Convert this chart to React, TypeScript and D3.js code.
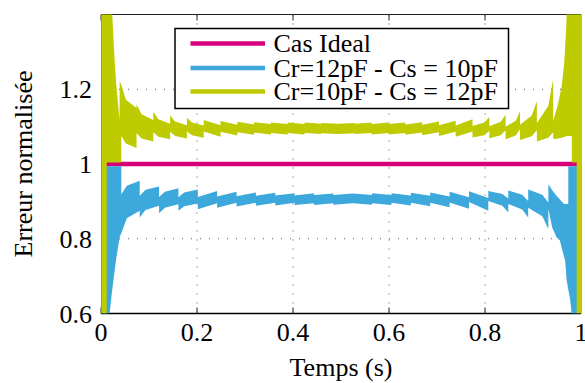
import React from "react";
import * as d3 from "d3";

// ---- data ----
const xTicks = [0, 0.2, 0.4, 0.6, 0.8, 1];
const xTickLabels = ["0", "0.2", "0.4", "0.6", "0.8", "1"];
const yTicks = [0.6, 0.8, 1, 1.2];
const yTickLabels = ["0.6", "0.8", "1", "1.2"];
const yGrid = [0.8, 1, 1.2];
const xGrid = [0.2, 0.4, 0.6, 0.8];

const seriesNames = ["Cas Ideal", "Cr=12pF - Cs = 10pF", "Cr=10pF - Cs = 12pF"];
const seriesColors = ["#d6007b", "#3ca8dc", "#becb00"];

// ideal case
const idealX = [0, 1];
const idealY = [1, 1];

// yellow band (Cr=10pF - Cs=12pF): [x, upper, lower]
const yellowStart = [
  [0.002, 1.45, 0.6],
  [0.012, 1.45, 0.6],
  [0.012, 1.45, 1.004],
  [0.0215, 1.45, 1.004],
  [0.025, 1.36, 1.004],
  [0.0285, 1.275, 1.004],
  [0.032, 1.21, 1.004],
  [0.035, 1.168, 1.004],
  [0.0385, 1.118, 1.004],
  [0.039, 1.221, 1.004],
  [0.0423, 1.212, 1.004],
];
// teeth: [x0, x1, upper0, upper1, lower0, lower1, upperMid?, lowerMid?]
const yellowTeeth = [
  [0.0423, 0.074, 1.212, 1.15, 1.075, 1.043, 1.172, 1.055],
  [0.074, 0.109, 1.16, 1.118, 1.082, 1.06, 1.133, 1.068],
  [0.109, 0.144, 1.14, 1.108, 1.085, 1.066, 1.12, 1.073],
  [0.144, 0.179, 1.13, 1.104, 1.086, 1.068, 1.114, 1.075],
  [0.179, 0.214, 1.124, 1.103, 1.087, 1.07, 1.111, 1.077],
  [0.214, 0.249, 1.118, 1.104, 1.087, 1.073],
  [0.249, 0.284, 1.115, 1.105, 1.086, 1.076],
  [0.284, 0.319, 1.113, 1.106, 1.085, 1.078],
  [0.319, 0.354, 1.112, 1.107, 1.084, 1.079],
  [0.354, 0.389, 1.111, 1.107, 1.083, 1.079],
  [0.389, 0.424, 1.111, 1.107, 1.083, 1.079],
  [0.424, 0.459, 1.111, 1.108, 1.083, 1.08],
  [0.459, 0.494, 1.11, 1.108, 1.082, 1.08],
  [0.494, 0.529, 1.108, 1.11, 1.08, 1.082],
  [0.529, 0.564, 1.108, 1.111, 1.08, 1.083],
  [0.564, 0.599, 1.107, 1.111, 1.079, 1.083],
  [0.599, 0.634, 1.107, 1.111, 1.079, 1.083],
  [0.634, 0.669, 1.106, 1.112, 1.078, 1.084],
  [0.669, 0.704, 1.105, 1.114, 1.077, 1.085],
  [0.704, 0.739, 1.104, 1.116, 1.075, 1.086],
  [0.739, 0.774, 1.103, 1.12, 1.073, 1.087],
  [0.774, 0.809, 1.102, 1.126, 1.071, 1.088, 1.111, 1.077],
  [0.809, 0.843, 1.101, 1.132, 1.069, 1.09, 1.113, 1.077],
  [0.843, 0.873, 1.1, 1.141, 1.066, 1.093, 1.116, 1.076],
  [0.873, 0.908, 1.105, 1.168, 1.064, 1.09, 1.13, 1.074],
  [0.908, 0.942, 1.11, 1.226, 1.06, 1.085, 1.155, 1.07],
];
const yellowEnd = [
  [0.942, 1.115, 1.067],
  [0.952, 1.16, 1.068],
  [0.96, 1.21, 1.07],
  [0.965, 1.27, 1.072],
  [0.969, 1.36, 1.074],
  [0.9715, 1.45, 1.075],
  [0.9808, 1.45, 1.075],
  [0.9808, 1.45, 1.004],
  [0.991, 1.45, 1.004],
  [0.991, 1.45, 0.6],
  [1.002, 1.45, 0.6],
];

// blue band (Cr=12pF - Cs=10pF)
const blueStart = [
  [0.0, 1.45, 0.6],
  [0.003, 1.45, 0.6],
  [0.003, 0.994, 0.6],
  [0.018, 0.994, 0.6],
  [0.0215, 0.994, 0.643],
  [0.025, 0.994, 0.68],
  [0.032, 0.994, 0.75],
  [0.039, 0.994, 0.805],
  [0.0423, 0.994, 0.815],
];
const blueTeeth = [
  [0.0423, 0.0806, 0.919, 0.955, 0.815, 0.875, 0.942, 0.855],
  [0.0806, 0.121, 0.915, 0.94, 0.857, 0.888, 0.931, 0.877],
  [0.121, 0.1613, 0.912, 0.935, 0.868, 0.892, 0.926, 0.883],
  [0.1613, 0.2017, 0.911, 0.932, 0.875, 0.894, 0.924, 0.887],
  [0.2017, 0.242, 0.912, 0.928, 0.879, 0.895],
  [0.242, 0.2824, 0.913, 0.926, 0.883, 0.896],
  [0.2824, 0.3227, 0.914, 0.924, 0.886, 0.896],
  [0.3227, 0.3631, 0.915, 0.923, 0.888, 0.896],
  [0.3631, 0.4034, 0.916, 0.922, 0.889, 0.896],
  [0.4034, 0.4438, 0.916, 0.922, 0.89, 0.895],
  [0.4438, 0.4841, 0.917, 0.921, 0.89, 0.895],
  [0.4841, 0.5245, 0.917, 0.921, 0.891, 0.895],
  [0.5245, 0.5648, 0.921, 0.917, 0.895, 0.891],
  [0.5648, 0.6052, 0.922, 0.917, 0.895, 0.89],
  [0.6052, 0.6455, 0.922, 0.916, 0.896, 0.889],
  [0.6455, 0.6859, 0.923, 0.915, 0.896, 0.887],
  [0.6859, 0.7262, 0.924, 0.913, 0.896, 0.884],
  [0.7262, 0.7666, 0.926, 0.911, 0.897, 0.88],
  [0.7666, 0.8069, 0.927, 0.909, 0.898, 0.875],
  [0.8069, 0.8485, 0.928, 0.908, 0.901, 0.87, 0.92, 0.888],
  [0.8485, 0.89, 0.929, 0.901, 0.893, 0.857, 0.918, 0.878],
  [0.89, 0.932, 0.932, 0.897, 0.883, 0.826, 0.918, 0.86],
];
const blueEnd = [
  [0.932, 0.946, 0.88],
  [0.94, 0.93, 0.83],
  [0.949, 0.915, 0.804],
  [0.956, 0.905, 0.795],
  [0.963, 0.895, 0.76],
  [0.967, 0.893, 0.742],
  [0.97, 0.893, 0.69],
  [0.9735, 0.893, 0.664],
  [0.9735, 0.994, 0.664],
  [0.977, 0.994, 0.64],
  [0.9806, 0.994, 0.6],
  [0.993, 0.994, 0.6],
];

// ---- layout ----
const W = 585;
const H = 383;
const L = 101;
const R = 581;
const T = 14.5;
const B = 313.5;

function buildBand(start: number[][], teeth: number[][], end: number[][]) {
  const pts: number[][] = [...start];
  teeth.forEach((t) => {
    const [x0, x1, h0, h1, l0, l1, hm, lm] = t;
    pts.push([x0, h0, l0]);
    if (t.length > 6) {
      const f = x0 < 0.5 ? 0.3 : 0.7;
      pts.push([x0 + (x1 - x0) * f, hm, lm]);
    }
    pts.push([x1, h1, l1]);
  });
  pts.push(...end);
  return pts;
}

export default function App() {
  const x = d3.scaleLinear().domain([0, 1]).range([L, R]);
  const y = d3.scaleLinear().domain([0.6, 1.4]).range([B, T]);
  const area = d3
    .area<number[]>()
    .x((d) => x(d[0]))
    .y0((d) => y(d[2]))
    .y1((d) => y(d[1]));
  const line = d3
    .line<number>()
    .x((_, i) => x(idealX[i]))
    .y((d) => y(d));

  const yellow = buildBand(yellowStart, yellowTeeth, yellowEnd);
  const blue = buildBand(blueStart, blueTeeth, blueEnd);
  const font = "'Liberation Serif', 'Times New Roman', serif";

  const legX = 175;
  const legY = 28.5;
  const legW = 333.5;
  const legH = 80;
  const rowY = [43.5, 68, 91.5];

  return (
    <svg width={W} height={H} style={{ position: "absolute", left: 0, top: 0, background: "#fff" }}>
      <defs>
        <clipPath id="plotclip">
          <rect x={L} y={T} width={R - L + 1} height={B - T} />
        </clipPath>
      </defs>
      <rect x={0} y={0} width={W} height={H} fill="#fff" />
      {/* grid */}
      {xGrid.map((v) => (
        <line key={"gx" + v} x1={x(v)} x2={x(v)} y1={T} y2={B} stroke="#555" strokeWidth={1} strokeDasharray="1,8" />
      ))}
      {yGrid.map((v) => (
        <line key={"gy" + v} x1={L} x2={R} y1={y(v)} y2={y(v)} stroke="#555" strokeWidth={1} strokeDasharray="1,8" />
      ))}
      {/* axes box */}
      <line x1={L} x2={R} y1={B} y2={B} stroke="#000" strokeWidth={1.5} />
      <line x1={L} x2={R} y1={T} y2={T} stroke="#222" strokeWidth={1.2} />
      {xTicks.map((v) => (
        <g key={"tx" + v}>
          <line x1={x(v)} x2={x(v)} y1={B} y2={B - 6} stroke="#222" strokeWidth={1} />
          <line x1={x(v)} x2={x(v)} y1={T} y2={T + 6} stroke="#222" strokeWidth={1} />
        </g>
      ))}
      {/* data */}
      <g clipPath="url(#plotclip)">
        <path d={line(idealY) || ""} fill="none" stroke={seriesColors[0]} strokeWidth={4.3} />
        <path d={area(blue) || ""} fill={seriesColors[1]} stroke="none" />
        <path d={area(yellow) || ""} fill={seriesColors[2]} stroke="none" />
      </g>
      {/* tick labels */}
      {xTicks.map((v, i) => (
        <text key={"lx" + v} x={x(v)} y={341} fontFamily={font} fontSize={26} textAnchor="middle" fill="#000">
          {xTickLabels[i]}
        </text>
      ))}
      {yTicks.map((v, i) => (
        <text key={"ly" + v} x={92} y={y(v) + 9} fontFamily={font} fontSize={26} textAnchor="end" fill="#000">
          {yTickLabels[i]}
        </text>
      ))}
      <text x={(L + R) / 2} y={376} fontFamily={font} fontSize={26} textAnchor="middle" fill="#000">
        Temps (s)
      </text>
      <text
        transform={`translate(32,${(T + B) / 2}) rotate(-90)`}
        fontFamily={font}
        fontSize={26}
        textAnchor="middle"
        fill="#000"
      >
        Erreur normalisée
      </text>
      {/* legend */}
      <rect x={legX} y={legY} width={legW} height={legH} fill="#fff" stroke="#000" strokeWidth={1.5} />
      {seriesNames.map((name, i) => (
        <g key={name}>
          <line x1={190.5} x2={265} y1={rowY[i]} y2={rowY[i]} stroke={seriesColors[i]} strokeWidth={4.5} />
          <text x={273.5} y={rowY[i] + 8.5} fontFamily={font} fontSize={26} fill="#000">
            {name}
          </text>
        </g>
      ))}
    </svg>
  );
}
